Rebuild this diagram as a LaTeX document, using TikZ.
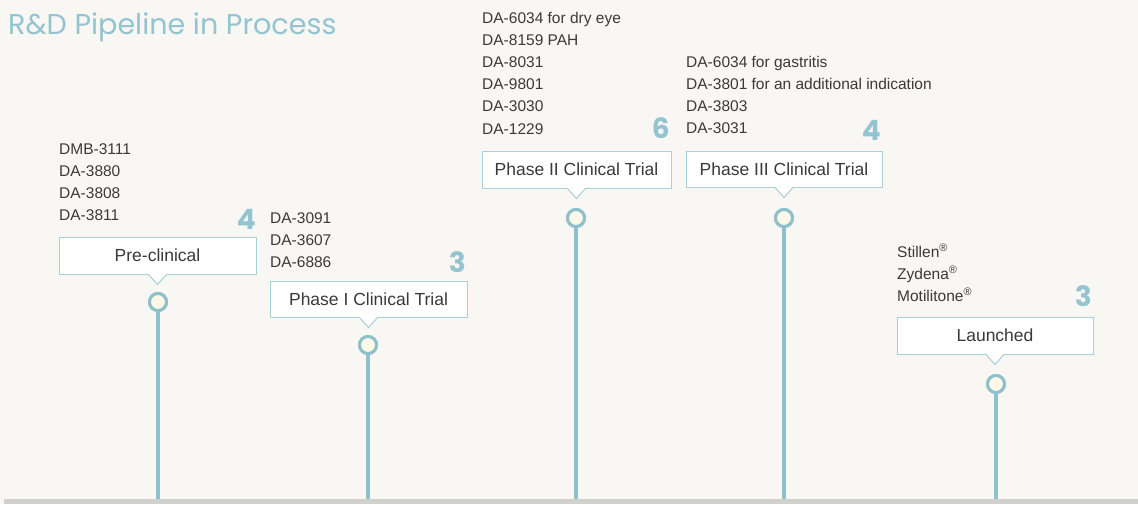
\documentclass[tikz,border=0pt]{standalone}
\usepackage{fontspec}
\setmainfont{Liberation Sans}
\newfontfamily\titlefont{Poppins}
\usetikzlibrary{calc}
\definecolor{bgc}{HTML}{F8F7F3}
\definecolor{tealc}{HTML}{8FC1CC}
\definecolor{boxc}{HTML}{A8D0DA}
\definecolor{numc}{HTML}{93C4D0}
\definecolor{pinfill}{HTML}{FFF8E6}
\definecolor{bandc}{HTML}{D0D0CD}
\definecolor{txtc}{HTML}{3A3A3A}
\begin{document}
\begin{tikzpicture}[x=1pt,y=-1pt,
  stagebox/.style={draw=boxc, line width=1pt, fill=white, inner sep=0pt,
    text=txtc, font=\fontsize{17.5}{20}\selectfont},
  boxline/.style={draw=boxc, line width=1pt},
  itemtxt/.style={anchor=base west, inner sep=0pt, text=txtc,
    font=\fontsize{15.5}{17}\selectfont},
  countnum/.style={anchor=base east, inner sep=0pt, text=numc,
    font=\titlefont\fontsize{28}{30}\selectfont\bfseries},
  pin/.style={circle, draw=tealc, line width=3pt, fill=pinfill,
    minimum size=17pt, inner sep=0pt},
  stem/.style={draw=tealc, line width=4.5pt}]
\useasboundingbox (0,0) rectangle (1138,504);
\fill[bgc] (0,0) rectangle (1138,504);
\fill[bandc] (4,499) rectangle (1138,504);
\coordinate (base) at (0,499);

% title
\node[anchor=base west, inner sep=0pt, text=numc,
  font=\titlefont\fontsize{28.6}{30}\selectfont] (title) at (8,34) {R\&D Pipeline in Process};

% stage boxes
\node[stagebox, minimum width=197pt, minimum height=37pt] (s1) at (157.5,255.5) {Pre-clinical};
\node[stagebox, minimum width=197pt, minimum height=36pt] (s2) at (368.5,299) {Phase I Clinical Trial};
\node[stagebox, minimum width=189pt, minimum height=37pt] (s3) at (576.5,169.5) {Phase II Clinical Trial};
\node[stagebox, minimum width=196pt, minimum height=36pt] (s4) at (784,169) {Phase III Clinical Trial};
\node[stagebox, minimum width=196pt, minimum height=37pt] (s5) at (995,335.5) {Launched};

% pins
\node[pin] (c1) at (158,302) {};
\node[pin] (c2) at (368,345) {};
\node[pin] (c3) at (576,218) {};
\node[pin] (c4) at (784,218) {};
\node[pin] (c5) at (996,384) {};

\foreach \i in {1,...,5}{
  \fill[white] ($(s\i.south)+(-9,-0.9)$) -- ($(s\i.south)+(9,-0.9)$) -- ($(s\i.south)+(0,10)$) -- cycle;
  \draw[boxline] ($(s\i.south)+(-9,0)$) -- ($(s\i.south)+(0,10)$) -- ($(s\i.south)+(9,0)$);
  \draw[stem] (c\i.south) -- (c\i.south |- base);
  \node[pin] at (c\i) {};
}

% counts
\node[countnum] (n1) at (256,229) {4};
\node[countnum] (n2) at (466,272) {3};
\node[countnum] (n3) at (670,138) {6};
\node[countnum] (n4) at (881,140) {4};
\node[countnum] (n5) at (1092,306) {3};

% item lists
\foreach \t [count=\k] in {DMB-3111,DA-3880,DA-3808,DA-3811}
  \node[itemtxt] (a\k) at (59,{154+22*(\k-1)}) {\t};
\foreach \t [count=\k] in {DA-3091,DA-3607,DA-6886}
  \node[itemtxt] (b\k) at (270,{223+22*(\k-1)}) {\t};
\foreach \t [count=\k] in {DA-6034 for dry eye,DA-8159 PAH,DA-8031,DA-9801,DA-3030,DA-1229}
  \node[itemtxt] (d\k) at (482,{23+22.2*(\k-1)}) {\t};
\foreach \t [count=\k] in {DA-6034 for gastritis,DA-3801 for an additional indication,DA-3803,DA-3031}
  \node[itemtxt] (e\k) at (686,{67+22*(\k-1)}) {\t};
\foreach \t [count=\k] in {Stillen\textsuperscript{\textregistered},Zydena\textsuperscript{\textregistered},Motilitone\textsuperscript{\textregistered}}
  \node[itemtxt] (f\k) at (897,{257+22*(\k-1)}) {\t};
\end{tikzpicture}
\end{document}
